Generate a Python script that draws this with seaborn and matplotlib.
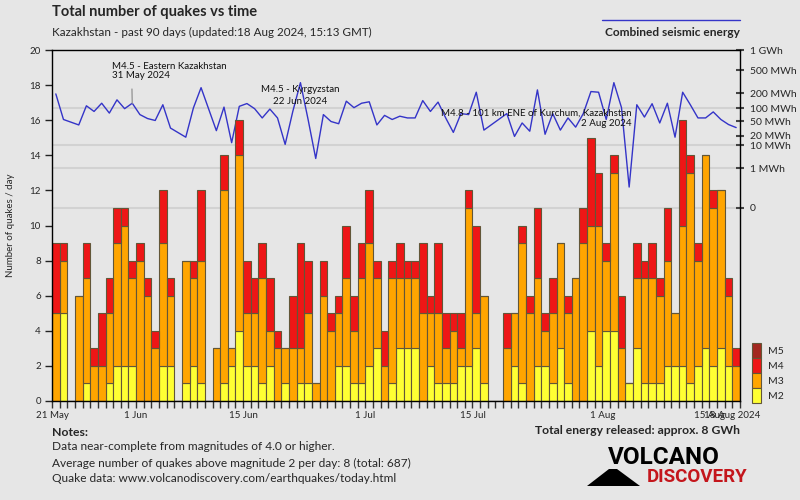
import numpy as np
import pandas as pd
import matplotlib
matplotlib.use("Agg")
import matplotlib.pyplot as plt
import seaborn as sns
from matplotlib.patches import Patch, Polygon
from matplotlib.lines import Line2D

# ------------------------------
# Data: 21 May - 18 Aug 2024 (90 days)
# ------------------------------
m2 = [0, 5, 0, 0, 1, 0, 0, 1, 2, 2,
      2, 0, 0, 0, 2, 2, 0, 1, 2, 1,
      0, 0, 1, 2, 4, 2, 2, 1, 2, 0,
      1, 0, 1, 1, 0, 0, 0, 2, 2, 1,
      1, 2, 3, 0, 1, 3, 3, 3, 0, 2,
      1, 1, 1, 2, 2, 3, 1, 0, 0, 0,
      2, 1, 0, 2, 2, 1, 3, 1, 0, 0,
      4, 2, 4, 4, 0, 1, 3, 1, 1, 1,
      2, 2, 2, 1, 2, 3, 2, 3, 2, 0]
m3 = [5, 3, 0, 6, 6, 2, 2, 4, 7, 8,
      5, 8, 6, 3, 7, 4, 0, 7, 5, 7,
      0, 3, 11, 1, 10, 3, 3, 6, 2, 3,
      2, 3, 2, 4, 1, 6, 4, 3, 5, 3,
      6, 7, 4, 2, 6, 4, 4, 4, 5, 3,
      4, 2, 3, 1, 9, 2, 5, 0, 0, 3,
      3, 8, 5, 5, 2, 4, 6, 4, 7, 9,
      6, 8, 4, 9, 3, 0, 4, 6, 6, 5,
      6, 3, 8, 12, 6, 11, 9, 9, 4, 2]
m4 = [4, 1, 0, 0, 2, 1, 3, 2, 2, 1,
      1, 1, 1, 1, 3, 1, 0, 0, 1, 4,
      0, 0, 2, 0, 2, 3, 2, 2, 3, 1,
      0, 3, 6, 3, 0, 2, 1, 1, 3, 2,
      2, 3, 1, 2, 1, 2, 1, 1, 4, 1,
      4, 2, 1, 2, 1, 5, 0, 0, 0, 2,
      0, 1, 1, 4, 1, 2, 0, 1, 0, 2,
      5, 3, 1, 1, 3, 0, 2, 1, 2, 1,
      3, 0, 6, 1, 1, 0, 1, 0, 1, 1]

# daily seismic energy in MWh (nan = no quakes that day)
nan = np.nan
energy_mwh = [196, 55, nan, 40, 113, 85, 128, 78, 150, 98,
              128, 72, 58, 52, 119, 33, nan, 18, 102, 256,
              nan, 28, 106, 12, 110, 126, 98, 60, 96, 60,
              10.5, 85, 314, 55, 3, 72, 49, 43, 141, 103,
              128, 137, 40, 69, 55, 66, 60, 60, 145, 85,
              135, 60, 25, 76, 72, 211, 29, nan, nan, 76,
              19, 45, 27, 233, 22, 76, 29, 60, 35, 76,
              217, 211, 55, 314, 103, 0.04, 119, 63, 125, 45,
              128, 18, 211, 119, 60, 60, 83, 55, 41, 34]

date_ticks = [0, 11, 25, 41, 55, 72, 86, 89]
date_labels = ["21 May", "1 Jun", "15 Jun", "1 Jul", "15 Jul", "1 Aug", "15 Aug", "18 Aug 2024"]

energy_ticks = [0, 1, 10, 20, 50, 100, 200, 500, 1000]
energy_labels = ["0", "1 MWh", "10 MWh", "20 MWh", "50 MWh", "100 MWh", "200 MWh", "500 MWh", "1 GWh"]
energy_grid = [0, 1, 10, 100]

events = [
    (10, "M4.5 - Eastern Kazakhstan\n31 May 2024"),
    (32, "M4.5 - Kyrgyzstan\n22 Jun 2024"),
    (73, "M4.8 - 101 km ENE of Kurchum, Kazakhstan\n2 Aug 2024"),
]

BG = "#e6e6e6"
colors = {"M5": "#a3281f", "M4": "#ee1616", "M3": "#ffa500", "M2": "#ffff33"}

sns.set_theme(style="white", rc={"axes.facecolor": BG, "figure.facecolor": BG})
plt.rcParams["font.family"] = ["Lato", "DejaVu Sans"]

# long format for seaborn
days = np.arange(len(m2))
df = pd.concat([
    pd.DataFrame({"day": days + 0.5, "count": m2, "mag": "M2"}),
    pd.DataFrame({"day": days + 0.5, "count": m3, "mag": "M3"}),
    pd.DataFrame({"day": days + 0.5, "count": m4, "mag": "M4"}),
], ignore_index=True)
edf = pd.DataFrame({"day": days + 0.5, "energy": energy_mwh}).dropna()

fig = plt.figure(figsize=(8, 5), dpi=100)
ax = fig.add_axes([0.065, 0.198, 0.86, 0.702])
ax2 = ax.twinx()

# ------------------------------
# stacked daily bars
# ------------------------------
sns.histplot(data=df, x="day", weights="count", hue="mag",
             hue_order=["M4", "M3", "M2"], multiple="stack",
             discrete=True, shrink=1, palette=colors, alpha=1,
             edgecolor="#625638", linewidth=0.8, legend=False, ax=ax)
ax.set_xlim(0, len(m2))
ax.set_ylim(0, 20)
ax.set_yticks(np.arange(0, 21, 2))
ax.set_xticks(date_ticks)
ax.set_xticklabels(date_labels)
ax.set_xticks(np.arange(len(m2) + 1), minor=True)
ax.tick_params(axis="x", which="both", bottom=True, length=5, width=1,
               color="#333333", labelsize=7, pad=2)
ax.tick_params(axis="y", left=True, length=5, width=1, color="#222222",
               labelsize=7, pad=3)
ax.set_xlabel("")
ax.set_ylabel("Number of quakes / day", fontsize=7)
ax.yaxis.set_label_coords(-0.054, 0.5)
for s in ax.spines.values():
    s.set_color("black")
    s.set_linewidth(1)

# ------------------------------
# energy line on a fifth-root scale
# ------------------------------
def fwd(e):
    e = np.asarray(e, dtype=float)
    return np.sign(e) * np.abs(e) ** 0.2


def inv(t):
    t = np.asarray(t, dtype=float)
    return np.sign(t) * np.abs(t) ** 5


ax2.set_yscale("function", functions=(fwd, inv))
ax2.set_ylim(-(4.87 ** 5), 1000)
for g in energy_grid:
    ax2.axhline(g, color="#d2d2d2", lw=1.5, zorder=0)
sns.lineplot(data=edf, x="day", y="energy", ax=ax2, color="#3434c8", lw=1)
ax2.set_yticks(energy_ticks)
ax2.set_yticklabels(energy_labels)
ax2.yaxis.set_minor_locator(matplotlib.ticker.NullLocator())
ax2.tick_params(axis="y", right=True, length=6, width=1.5, direction="inout",
                color="#444444", labelsize=7.5, pad=4)
ax2.set_ylabel("")
ax2.set_xlabel("")
for s in ax2.spines.values():
    s.set_visible(False)

# bars above the grid lines of the energy axis
ax.set_zorder(ax2.get_zorder() + 1)
ax.patch.set_visible(False)

# event labels
ann = [((-20, 32), "left", 1.0, (0.17, 0.0)),
       ((0, -13), "center", 1.4, None),
       ((18, -36), "right", 1.2, None)]
for (d, label), (off, ha, ls, rel) in zip(events, ann):
    kw = {}
    if rel is not None:
        kw["arrowprops"] = dict(arrowstyle="-", color="#9a9a9a", lw=1,
                                shrinkA=4, shrinkB=0, relpos=rel)
    ax.annotate(label, xy=(d + 0.5, energy_mwh[d]), xycoords=ax2.transData,
                xytext=off, textcoords="offset pixels", ha=ha, va="center",
                fontsize=7, linespacing=ls, color="#111111", **kw)

# legend of magnitudes
handles = [Patch(facecolor=colors[m], edgecolor="#625638", lw=0.8, label=m)
           for m in ["M5", "M4", "M3", "M2"]]
fig.legend(handles=handles, loc="lower left", bbox_to_anchor=(0.94, 0.194),
           frameon=False, handlelength=0.9, handleheight=1.85, labelspacing=0,
           handletextpad=0.6, borderpad=0, borderaxespad=0, fontsize=7.5)

# ------------------------------
# titles, notes and logo
# ------------------------------
fig.text(0.065, 0.976, "Total number of quakes vs time", fontsize=10.5,
         fontweight="bold", va="center")
fig.text(0.065, 0.936, "Kazakhstan - past 90 days (updated:18 Aug 2024, 15:13 GMT)",
         fontsize=8.4, va="center")
fig.add_artist(Line2D([0.7525, 0.925], [0.96, 0.96], color="#3434c8", lw=1))
fig.text(0.925, 0.936, "Combined seismic energy", fontsize=8.6,
         fontweight="bold", ha="right", va="center")

fig.text(0.065, 1 - 432 / 500, "Notes:", fontsize=8.8, fontweight="bold", va="center")
notes = ["Data near-complete from magnitudes of 4.0 or higher.",
         "Average number of quakes above magnitude 2 per day: 8 (total: 687)",
         "Quake data: www.volcanodiscovery.com/earthquakes/today.html"]
for i, line in enumerate(notes):
    fig.text(0.065, 1 - (447 + 16 * i) / 500, line, fontsize=8.6, va="center")
fig.text(0.925, 1 - 431 / 500, "Total energy released: approx. 8 GWh",
         fontsize=8.7, fontweight="bold", ha="right", va="center")

fig.text(664 / 800, 1 - 458 / 500, "VOLCANO", fontsize=17.5, fontweight="bold",
         family=["Roboto", "DejaVu Sans"], ha="center", va="center", color="black")
fig.text(697 / 800, 1 - 477.5 / 500, "DISCOVERY", fontsize=13.5, fontweight="bold",
         family=["Roboto", "DejaVu Sans"], ha="center", va="center", color="#c4161c")
logo = np.array([(587, 486), (609, 469), (617, 469), (640, 486)], dtype=float)
logo[:, 0] /= 800
logo[:, 1] = 1 - logo[:, 1] / 500
fig.add_artist(Polygon(logo, closed=True, transform=fig.transFigure,
                       facecolor="black", edgecolor="none"))

fig.savefig("out.png", dpi=100, facecolor=BG)
